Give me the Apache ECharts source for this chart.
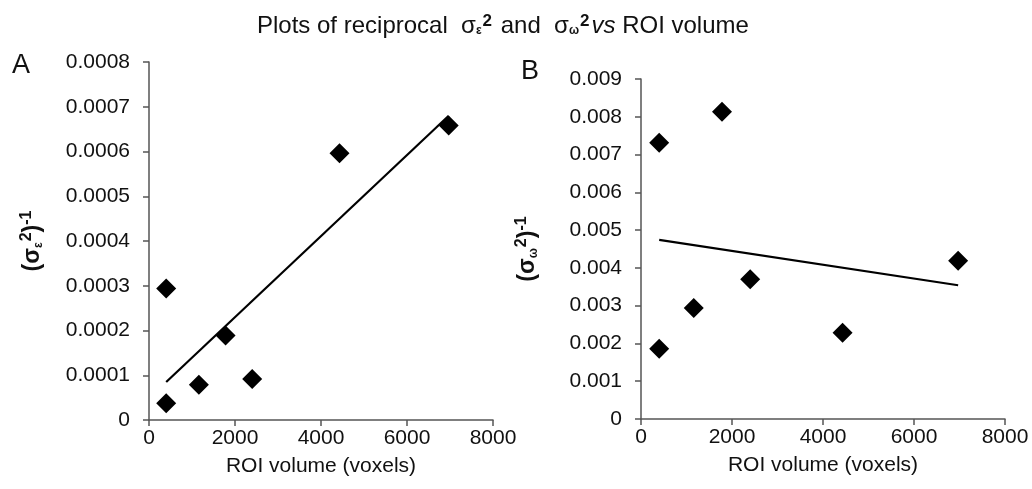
<!DOCTYPE html>
<html>
<head>
<meta charset="utf-8">
<script src="https://cdn.jsdelivr.net/npm/echarts@6/dist/echarts.min.js"></script>
<style>
html,body{margin:0;padding:0;background:#fff;}
#main{width:1032px;height:489px;}
</style>
</head>
<body>
<div id="main"></div>
<script>
// ROI volumes (voxels)
const volumes = [400, 400, 1160, 1780, 2400, 4430, 6970];
// Panel A: reciprocal sigma_epsilon^2
const recipEps = [0.000294, 0.0000375, 0.000079, 0.000189, 0.0000915, 0.000596, 0.000658];
// Panel B: reciprocal sigma_omega^2
const recipOmega = [0.00731, 0.00186, 0.00294, 0.00813, 0.00370, 0.00228, 0.00419];
// Trend line end points
const trendX = [400, 6970];
const trendA = [0.000085, 0.00068];
const trendB = [0.00474, 0.00354];
// Axis ticks
const xTicks = [0, 2000, 4000, 6000, 8000];
const yTicksA = [0, 0.0001, 0.0002, 0.0003, 0.0004, 0.0005, 0.0006, 0.0007, 0.0008];
const yTicksB = [0, 0.001, 0.002, 0.003, 0.004, 0.005, 0.006, 0.007, 0.008, 0.009];

const FONT = 'Liberation Sans, Arial, sans-serif';
const TXT = '#111';
const AX = '#555';

function pairs(xs, ys){ return xs.map((x,i)=>[x, ys[i]]); }

const chart = echarts.init(document.getElementById('main'), null, {renderer:'canvas'});

const nameRich = {
  p:{fontSize:23, fontWeight:'bold', fontFamily:FONT, color:TXT, lineHeight:32, verticalAlign:'middle'},
  sub:{fontSize:12, fontWeight:'bold', fontFamily:FONT, color:TXT, lineHeight:13, verticalAlign:'bottom', padding:[0,1,4,0]},
  sup:{fontSize:16, fontWeight:'bold', fontFamily:FONT, color:TXT, lineHeight:17, verticalAlign:'top', padding:[2,0,0,0]}
};

function xAxisCfg(idx){
  return {
    type:'value', gridIndex:idx, min:xTicks[0], max:xTicks[xTicks.length-1], interval:xTicks[1]-xTicks[0],
    name:'ROI volume (voxels)', nameLocation:'middle', nameGap:36,
    nameTextStyle:{fontSize:21, fontFamily:FONT, color:TXT},
    axisLine:{show:true, lineStyle:{color:AX, width:1.5}},
    axisTick:{show:true, inside:false, length:6, lineStyle:{color:AX, width:1.5}},
    axisLabel:{fontSize:21, fontFamily:FONT, color:TXT, margin:8,
      formatter:function(v){ return String(Math.round(v)); }},
    splitLine:{show:false}
  };
}
function yAxisCfg(idx, ticks, dec, nameStr, gap){
  return {
    type:'value', gridIndex:idx, min:ticks[0], max:ticks[ticks.length-1], interval:ticks[1]-ticks[0],
    name:nameStr, nameLocation:'middle', nameRotate:90, nameGap:gap,
    nameTextStyle:{rich:nameRich},
    axisLine:{show:true, lineStyle:{color:AX, width:1.5}},
    axisTick:{show:true, inside:false, length:6, lineStyle:{color:AX, width:1.5}},
    axisLabel:{fontSize:21, fontFamily:FONT, color:TXT, margin:19,
      formatter:function(v){ return Math.abs(v) < 1e-12 ? '0' : v.toFixed(dec); }},
    splitLine:{show:false}
  };
}

const option = {
  backgroundColor:'#fff',
  animation:false,
  title:{
    text:'{t|Plots of reciprocal  σ}{sub|ε}{sup|2}{t| and  σ}{sub|ω}{sup|2}{it|vs}{t| ROI volume}',
    left:252, top:6,
    textStyle:{
      fontWeight:'normal',
      rich:{
        t:{fontSize:24, fontWeight:'normal', fontFamily:FONT, color:TXT, lineHeight:30, verticalAlign:'middle'},
        it:{fontSize:24, fontWeight:'normal', fontFamily:FONT, fontStyle:'italic', color:TXT, lineHeight:30, verticalAlign:'middle'},
        sub:{fontSize:12, fontFamily:FONT, fontWeight:'bold', color:TXT, lineHeight:13, verticalAlign:'bottom', padding:[0,1,4,0]},
        sup:{fontSize:17, fontFamily:FONT, fontWeight:'bold', color:TXT, lineHeight:18, verticalAlign:'top', padding:[2,2,0,0]}
      }
    }
  },
  grid:[
    {left:149, top:62, width:344, height:358},
    {left:641, top:79, width:364, height:340}
  ],
  xAxis:[xAxisCfg(0), xAxisCfg(1)],
  yAxis:[
    yAxisCfg(0, yTicksA, 4, '{p|(σ}{sub|ε}{sup|2}{p|)}{sup|-1}', 100),
    yAxisCfg(1, yTicksB, 3, '{p|(σ}{sub|ω}{sup|2}{p|)}{sup|-1}', 97)
  ],
  graphic:[
    {type:'text', left:12, top:52, style:{text:'A', font:'27px '+FONT, fill:TXT}},
    {type:'text', left:521, top:58, style:{text:'B', font:'27px '+FONT, fill:TXT}}
  ],
  series:[
    {type:'line', xAxisIndex:0, yAxisIndex:0, data:pairs(trendX, trendA), symbol:'none',
      lineStyle:{color:'#000', width:2.2}, z:2},
    {type:'scatter', xAxisIndex:0, yAxisIndex:0, data:pairs(volumes, recipEps), symbol:'diamond',
      symbolSize:20, itemStyle:{color:'#000', opacity:1}, z:3},
    {type:'line', xAxisIndex:1, yAxisIndex:1, data:pairs(trendX, trendB), symbol:'none',
      lineStyle:{color:'#000', width:2.2}, z:2},
    {type:'scatter', xAxisIndex:1, yAxisIndex:1, data:pairs(volumes, recipOmega), symbol:'diamond',
      symbolSize:20, itemStyle:{color:'#000', opacity:1}, z:3}
  ]
};
chart.setOption(option);
</script>
</body>
</html>
